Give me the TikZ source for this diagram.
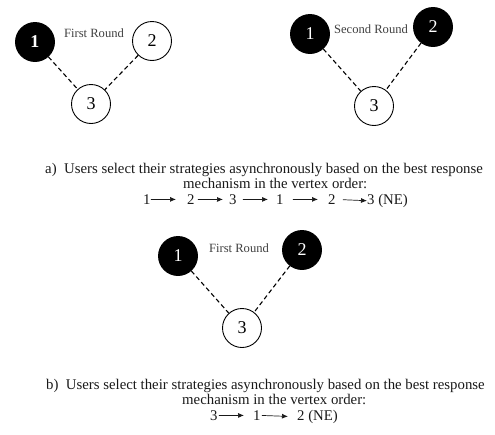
\documentclass[tikz,border=0pt]{standalone}
\usepackage{fontspec}
\setmainfont{Liberation Serif}
\usetikzlibrary{arrows.meta}
\begin{document}
\begin{tikzpicture}[x=1pt,y=-1pt,
  vtx/.style={circle,draw=black,line width=0.9pt,minimum size=39pt,inner sep=0pt,
    font=\fontsize{18}{18}\selectfont},
  fillvtx/.style={vtx,fill=black,text=white},
  link/.style={dash pattern=on 4.5pt off 3pt,line width=1.1pt},
  roundlbl/.style={text=black!75,font=\fontsize{12.6}{13}\selectfont,inner sep=0pt},
  captxt/.style={anchor=mid west,inner sep=0pt,text=black!90,font=\fontsize{14.8}{16}\selectfont},
  seqarr/.style={-{Latex[length=6pt,width=5pt]},line width=0.7pt,draw=black!90}]
\useasboundingbox (0,0) rectangle (495,434);
% panel a, first round
\node[fillvtx,font=\fontsize{18}{18}\selectfont\bfseries] (a1) at (35,42) {1};
\node[vtx] (a2) at (152,41) {2};
\node[vtx] (a3) at (91,104) {3};
\node[roundlbl] (ar) at (94,33) {First Round};
\draw[link] (a1) -- (a3);
\draw[link] (a2) -- (a3);
% panel a, second round
\node[fillvtx] (b1) at (310,34) {1};
\node[fillvtx] (b2) at (433,27) {2};
\node[vtx] (b3) at (374,106) {3};
\node[roundlbl] (br) at (371,29) {Second Round};
\draw[link] (b1) -- (b3);
\draw[link] (b2) -- (b3);
% caption a
\node[captxt] (ca1) at (45,171) {a)~~Users select their strategies asynchronously based on the best response};
\node[captxt] (ca2) at (183,186) {mechanism in the vertex order:};
\node[captxt] (s1) at (143,202) {1};
\node[captxt] (s2) at (187,202) {2};
\node[captxt] (s3) at (229,202) {3};
\node[captxt] (s4) at (276,202) {1};
\node[captxt] (s5) at (328,202) {2};
\node[captxt] (s6) at (367,202) {3 (NE)};
\draw[seqarr,shorten >=11pt] (s1.east) -- (s2.west);
\draw[seqarr,shorten <=3pt,shorten >=6pt] (s2.east) -- (s3.west);
\draw[seqarr,shorten <=6pt,shorten >=8pt] (s3.east) -- (s4.west);
\draw[seqarr,shorten <=9pt,shorten >=10pt] (s4.east) -- (s5.west);
\draw[seqarr,shorten <=7pt,shorten >=0pt] (s5.east) -- (s6.west);
% panel b
\node[fillvtx] (c1) at (178,256) {1};
\node[fillvtx] (c2) at (302,250) {2};
\node[vtx] (c3) at (242,328) {3};
\node[roundlbl] (cr) at (239,248) {First Round};
\draw[link] (c1) -- (c3);
\draw[link] (c2) -- (c3);
% caption b
\node[captxt] (cb1) at (46,387) {b)~~Users select their strategies asynchronously based on the best response};
\node[captxt] (cb2) at (182,402) {mechanism in the vertex order:};
\node[captxt] (t1) at (210,418) {3};
\node[captxt] (t2) at (253,418) {1};
\node[captxt] (t3) at (297,418) {2 (NE)};
\draw[seqarr,shorten <=1pt,shorten >=9pt] (t1.east) -- (t2.west);
\draw[seqarr,shorten <=1pt,shorten >=9pt] (t2.east) -- (t3.west);
\end{tikzpicture}
\end{document}
